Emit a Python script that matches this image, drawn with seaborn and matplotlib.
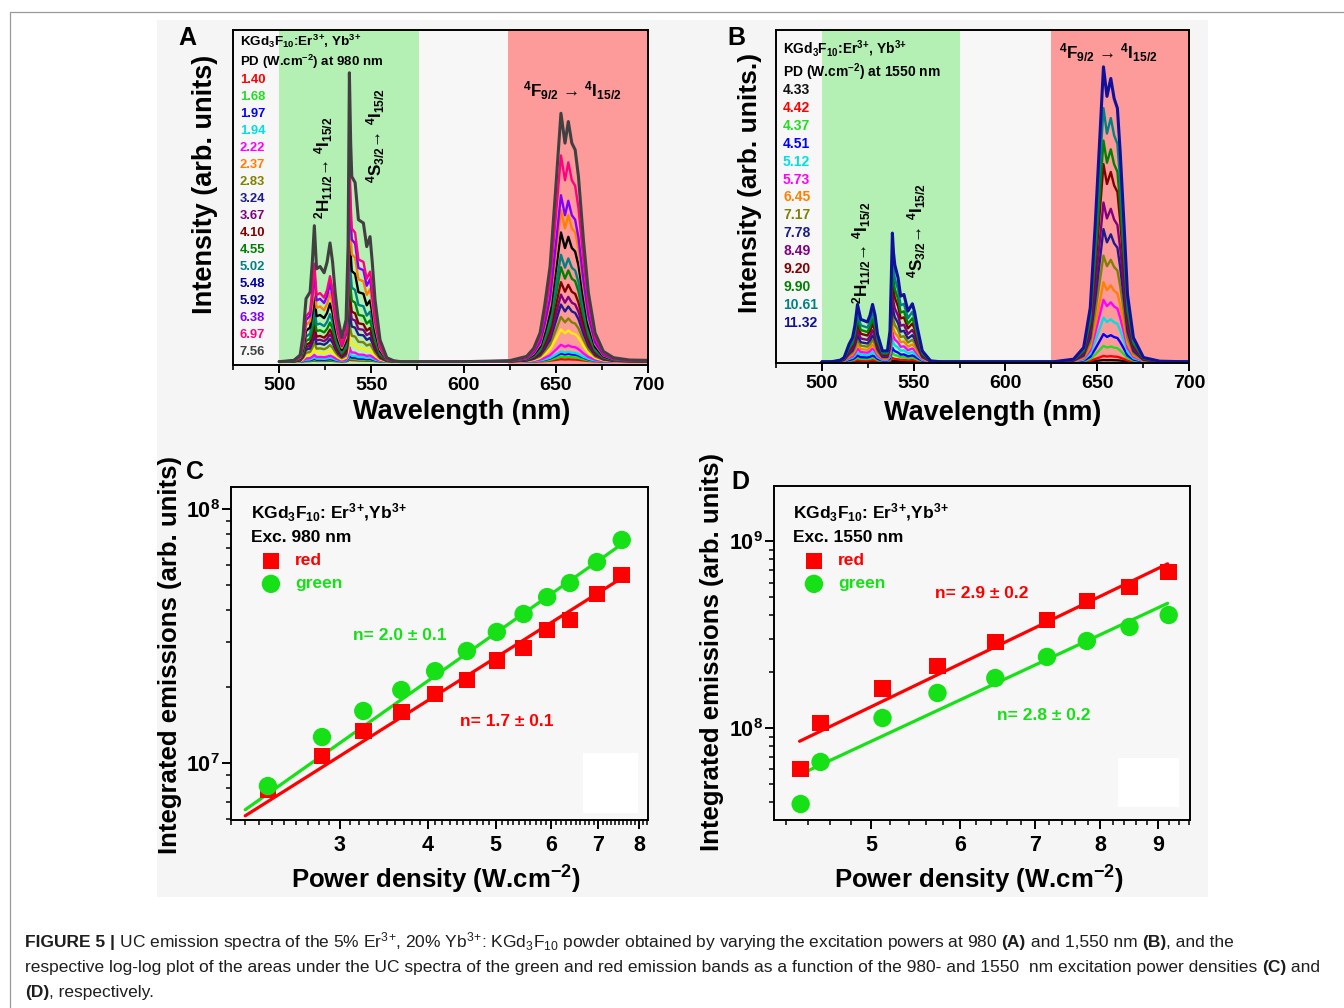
import numpy as np
import matplotlib
matplotlib.use("Agg")
import matplotlib.pyplot as plt
import seaborn as sns
from matplotlib.ticker import (FixedLocator, MultipleLocator, LogLocator,
                               FuncFormatter, NullFormatter)
from matplotlib.patches import Rectangle
from matplotlib.lines import Line2D

# ======================= DATA =======================
# ---- Panel A : spectra under 980 nm excitation (top curve profile) ----
A_green_wl = [500, 508, 511.4, 513.0, 514.6, 516.8, 518.0, 519.1, 520.3, 522.2,
              524.4, 526.0, 527.6, 529.0, 530.4, 532.0, 534.0, 536.3, 537.4, 538.1,
              538.8, 539.4, 541.2, 543.0, 545.7, 547.5, 549.3, 550.5, 552.0, 554.7,
              558.4, 562.0, 566.0]
A_green_top = [0.0, 0.004, 0.02, 0.08, 0.19, 0.21, 0.30, 0.41, 0.28, 0.287,
               0.268, 0.30, 0.358, 0.30, 0.208, 0.13, 0.072, 0.126, 0.35, 0.871,
               0.66, 0.558, 0.54, 0.428, 0.418, 0.347, 0.377, 0.30, 0.187, 0.066,
               0.012, 0.003, 0.0]
A_red_wl = [600, 625, 634.2, 638.0, 641.5, 644.0, 646.9, 650.2, 652.8, 655.0,
            656.8, 658.7, 660.5, 662.3, 665.0, 667.7, 671.3, 675.8, 681.3, 690.0, 700.0]
A_red_top = [0.0, 0.003, 0.016, 0.04, 0.087, 0.17, 0.287, 0.54, 0.749, 0.659,
             0.724, 0.659, 0.639, 0.558, 0.367, 0.207, 0.087, 0.031, 0.012, 0.005, 0.004]
A_pd_labels = ["1.40", "1.68", "1.97", "1.94", "2.22", "2.37", "2.83", "3.24", "3.67",
               "4.10", "4.55", "5.02", "5.48", "5.92", "6.38", "6.97", "7.56"]
A_green_fac = [0.008, 0.014, 0.022, 0.032, 0.05, 0.095, 0.14, 0.19, 0.23,
               0.27, 0.33, 0.40, 0.49, 0.58, 0.66, 0.72, 1.0]
A_red_fac = [0.01, 0.02, 0.033, 0.041, 0.068, 0.13, 0.18, 0.23, 0.27,
             0.32, 0.38, 0.43, 0.52, 0.61, 0.67, 0.83, 1.0]
A_text_colors = ["#ff0000", "#22dd22", "#0000ff", "#00e0e0", "#ff00ff", "#ff8000",
                 "#808000", "#1c1c8c", "#800080", "#800000", "#008000", "#008080",
                 "#0000a0", "#000080", "#8000ff", "#ff0080", "#404040"]
A_line_colors = ["#ff0000", "#00ee00", "#0000ff", "#00e5e5", "#ff00ff", "#ffee00",
                 "#808000", "#1c1c8c", "#800080", "#800000", "#008000", "#008080",
                 "#000000", "#ff8000", "#8000ff", "#ff0080", "#404040"]

# ---- Panel B : spectra under 1550 nm excitation ----
B_green_wl = [500, 504.9, 510.0, 512.1, 514.8, 516.7, 518.0, 519.4, 520.3, 521.2,
              523.5, 524.8, 526.2, 527.6, 529.0, 530.3, 533.0, 535.7, 537.1, 537.8,
              538.4, 539.0, 539.7, 541.5, 542.9, 544.7, 546.9, 549.3, 550.5, 552.0,
              554.7, 559.2, 565.0]
B_green_top = [0.0, 0.0, 0.005, 0.013, 0.053, 0.073, 0.11, 0.173, 0.15, 0.128,
               0.123, 0.12, 0.14, 0.173, 0.14, 0.083, 0.033, 0.033, 0.093, 0.25,
               0.388, 0.33, 0.293, 0.253, 0.198, 0.203, 0.153, 0.175, 0.15, 0.103,
               0.033, 0.003, 0.0]
B_red_wl = [600, 626, 637.1, 642.6, 646.2, 648.9, 651.3, 653.4, 655.3, 657.4,
            659.2, 661.0, 662.5, 664.7, 666.5, 669.7, 675.2, 684.0, 700.0]
B_red_top = [0.0, 0.0, 0.008, 0.043, 0.163, 0.413, 0.664, 0.889, 0.80, 0.854,
             0.794, 0.764, 0.634, 0.403, 0.203, 0.073, 0.013, 0.002, 0.0]
B_pd_labels = ["4.33", "4.42", "4.37", "4.51", "5.12", "5.73", "6.45", "7.17",
               "7.78", "8.49", "9.20", "9.90", "10.61", "11.32"]
B_green_fac = [0.008, 0.03, 0.07, 0.11, 0.17, 0.23, 0.30, 0.38, 0.46, 0.55,
               0.66, 0.75, 0.86, 1.0]
B_red_fac = [0.006, 0.02, 0.054, 0.094, 0.15, 0.21, 0.27, 0.36, 0.45, 0.54,
             0.67, 0.75, 0.86, 1.0]
B_colors = ["#111111", "#ff0000", "#22dd22", "#0000ff", "#00e0e0", "#ff00ff",
            "#ff8000", "#808000", "#1c1c8c", "#800080", "#800000", "#008000",
            "#008080", "#10109a"]

# ---- Panel C : integrated emissions, 980 nm ----
C_power = [2.37, 2.83, 3.24, 3.67, 4.10, 4.55, 5.02, 5.48, 5.92, 6.38, 6.97, 7.56]
C_red = [7.83e6, 1.066e7, 1.336e7, 1.588e7, 1.87e7, 2.12e7, 2.54e7, 2.84e7,
         3.34e7, 3.66e7, 4.63e7, 5.50e7]
C_green = [8.12e6, 1.266e7, 1.603e7, 1.938e7, 2.30e7, 2.76e7, 3.28e7, 3.86e7,
           4.50e7, 5.11e7, 6.18e7, 7.55e7]
C_fit_red = (1.745, 6.195)      # slope, log10 intercept
C_fit_green = (1.949, 6.149)
C_fit_range = [2.2, 7.6]

# ---- Panel D : integrated emissions, 1550 nm ----
D_power = [4.33, 4.51, 5.12, 5.73, 6.45, 7.17, 7.78, 8.49, 9.20]
D_red = [6.04e7, 1.064e8, 1.62e8, 2.15e8, 2.88e8, 3.78e8, 4.78e8, 5.68e8, 6.83e8]
D_green = [3.92e7, 6.58e7, 1.131e8, 1.54e8, 1.85e8, 2.40e8, 2.92e8, 3.47e8, 4.02e8]
D_fit_red = (2.9, 6.086)
D_fit_green = (2.8, 5.971)
D_fit_range = [4.32, 9.18]

RED = "#ff0000"
GREEN = "#16e016"

# ======================= STYLE =======================
sns.set_theme(style="ticks")
plt.rcParams["font.family"] = ["Liberation Sans", "DejaVu Sans"]
plt.rcParams["font.weight"] = "bold"
plt.rcParams["axes.labelweight"] = "bold"
plt.rcParams["mathtext.default"] = "regular"

W, H = 1344, 1008
fig = plt.figure(figsize=(W / 100, H / 100), dpi=100)
fig.patch.set_facecolor("white")

ION_ER = r"Er$^{3}$$^{+}$"
ION_YB = r"Yb$^{3}$$^{+}$"
HOST = r"KGd$_{3}$F$_{10}$"


def axrect(l, t, r, b):
    return [l / W, 1 - b / H, (r - l) / W, (b - t) / H]


def T(x, y, s, size, color="black", ha="left", va="center", rot=0, weight="bold"):
    return fig.text(x / W, 1 - y / H, s, fontsize=size, color=color, ha=ha, va=va,
                    rotation=rot, fontweight=weight)


# page decorations
fig.add_artist(Rectangle((157 / W, 1 - 897 / H), (1208 - 157) / W, (897 - 20) / H,
                         transform=fig.transFigure, facecolor="#f5f5f5",
                         edgecolor="none", zorder=-5))
fig.add_artist(Line2D([10 / W, 1], [1 - 12 / H, 1 - 12 / H], transform=fig.transFigure,
                      color="#9a9a9a", lw=0.9))
fig.add_artist(Line2D([10 / W, 10 / W], [1 - 12 / H, 0], transform=fig.transFigure,
                      color="#9a9a9a", lw=0.9))

axA = fig.add_axes(axrect(233, 30, 648, 365))
axB = fig.add_axes(axrect(776, 30, 1189, 363.5))
axC = fig.add_axes(axrect(231, 487, 648, 820))
axD = fig.add_axes(axrect(774, 486, 1190, 820))

for ax in (axA, axB, axC, axD):
    ax.set_facecolor("#f7f7f7")
    for sp in ax.spines.values():
        sp.set_visible(True)
        sp.set_linewidth(1.4)
        sp.set_color("black")
        sp.set_zorder(6)


# ======================= SPECTRA =======================
def draw_spectra(ax, gwl, gtop, rwl, rtop, gfac, rfac, colors, gspan, rspan, ylim):
    ax.axvspan(*gspan, color="#b4efb4", lw=0, zorder=0)
    ax.axvspan(*rspan, color="#fd9b9b", lw=0, zorder=0)
    wl = np.concatenate([gwl, rwl])
    n = len(colors)
    for i, (gf, rf, c) in enumerate(zip(gfac, rfac, colors)):
        y = np.concatenate([np.asarray(gtop) * gf, np.asarray(rtop) * rf])
        sns.lineplot(x=wl, y=y, ax=ax, color=c, lw=2.2 if i == n - 1 else 1.7,
                     sort=False, estimator=None, errorbar=None, legend=False,
                     zorder=2 + i * 0.01)
    ax.set_xlim(475, 700)
    ax.set_ylim(*ylim)
    ax.xaxis.set_major_locator(MultipleLocator(50))
    ax.xaxis.set_minor_locator(MultipleLocator(25))
    ax.tick_params(axis="x", which="major", direction="out", length=6, width=1.4,
                   labelsize=14, pad=2.5, colors="black")
    ax.tick_params(axis="x", which="minor", direction="out", length=3.5, width=1.2,
                   colors="black")
    ax.tick_params(axis="y", which="both", left=False, labelleft=False)
    ax.set_xlabel("")
    ax.set_ylabel("")


draw_spectra(axA, A_green_wl, A_green_top, A_red_wl, A_red_top, A_green_fac, A_red_fac,
             A_line_colors, (500, 576), (624, 700), (-0.01, 1.0))
draw_spectra(axB, B_green_wl, B_green_top, B_red_wl, B_red_top, B_green_fac, B_red_fac,
             B_colors, (500, 575), (625, 700), (-0.005, 1.0))

# panel A texts
T(240, 41, HOST + ":" + ION_ER + ", " + ION_YB, 9.7)
T(240, 62, r"PD (W.cm$^{-2}$) at 980 nm", 9.5)
for i, (lab, col) in enumerate(zip(A_pd_labels, A_text_colors)):
    T(240, 80 + 17 * i, lab, 9.4, color=col)
T(324, 168, r"$^{2}$H$_{11/2}$→ $^{4}$I$_{15/2}$", 12.3, ha="center", rot=90)
T(376, 136, r"$^{4}$S$_{3/2}$→ $^{4}$I$_{15/2}$", 12.3, ha="center", rot=90)
T(572, 91, r"$^{4}$F$_{9/2}$ → $^{4}$I$_{15/2}$", 12.3, ha="center")
T(187, 38, "A", 18, ha="center")
T(205, 184, "Intensity (arb. units)", 19.5, ha="center", rot=90)
T(462, 412, "Wavelength (nm)", 19.5, ha="center")

# panel B texts
T(783, 49, HOST + ":" + ION_ER + ", " + ION_YB, 9.9)
T(783, 72, r"PD (W.cm$^{-2}$) at 1550 nm", 10)
for i, (lab, col) in enumerate(zip(B_pd_labels, B_colors)):
    T(783, 90 + 17.9 * i, lab, 10, color=col)
T(862, 253, r"$^{2}$H$_{11/2}$→ $^{4}$I$_{15/2}$", 12.3, ha="center", rot=90)
T(917, 231, r"$^{4}$S$_{3/2}$→ $^{4}$I$_{15/2}$", 12.3, ha="center", rot=90)
T(1108, 53, r"$^{4}$F$_{9/2}$ → $^{4}$I$_{15/2}$", 12.3, ha="center")
T(736, 38, "B", 18, ha="center")
T(750, 183, "Intensity (arb. units.)", 19, ha="center", rot=90)
T(993, 413, "Wavelength (nm)", 19.5, ha="center")


# ======================= LOG-LOG PANELS =======================
def draw_loglog(ax, power, red, green, fit_red, fit_green, fit_range, xlim, ylim,
                xmajor, xminor_step, leg_anchor):
    xs = np.asarray(fit_range, dtype=float)
    for (n_, b_), c in ((fit_red, RED), (fit_green, GREEN)):
        sns.lineplot(x=xs, y=10 ** (b_ + n_ * np.log10(xs)), ax=ax, color=c, lw=2.3,
                     sort=False, estimator=None, errorbar=None, legend=False, zorder=3)
    sns.scatterplot(x=power, y=red, ax=ax, marker="s", s=144, color=RED,
                    edgecolor="none", linewidth=0, label="red", zorder=4)
    sns.scatterplot(x=power, y=green, ax=ax, marker="o", s=175, color=GREEN,
                    edgecolor="none", linewidth=0, label="green", zorder=4)
    ax.set_xscale("log")
    ax.set_yscale("log")
    ax.set_xlim(*xlim)
    ax.set_ylim(*ylim)
    ax.xaxis.set_major_locator(FixedLocator(xmajor))
    ax.xaxis.set_major_formatter(FuncFormatter(lambda v, p: f"{v:g}"))
    ax.xaxis.set_minor_locator(MultipleLocator(xminor_step))
    ax.xaxis.set_minor_formatter(NullFormatter())
    ax.yaxis.set_major_locator(LogLocator(base=10))
    ax.yaxis.set_major_formatter(
        FuncFormatter(lambda v, p: r"10$^{%d}$" % int(round(np.log10(v)))))
    ax.yaxis.set_minor_locator(LogLocator(base=10, subs=np.arange(2, 10)))
    ax.yaxis.set_minor_formatter(NullFormatter())
    ax.tick_params(axis="both", which="major", direction="out", length=6.5, width=1.4,
                   labelsize=15.5, colors="black")
    ax.tick_params(axis="x", which="major", pad=4)
    ax.tick_params(axis="y", which="major", pad=1.5)
    ax.tick_params(axis="both", which="minor", direction="out", length=3.5, width=1.1,
                   colors="black")
    ax.set_xlabel("")
    ax.set_ylabel("")
    h, l = ax.get_legend_handles_labels()
    ax.legend(h, l, loc="upper left", bbox_to_anchor=leg_anchor, frameon=False,
              borderpad=0, borderaxespad=0, handlelength=1.2,
              handletextpad=0.8, labelspacing=0.45, labelcolor=[RED, GREEN],
              prop={"weight": "bold", "size": 12.5})


draw_loglog(axC, C_power, C_red, C_green, C_fit_red, C_fit_green, C_fit_range,
            (2.1, 8.24), (5.97e6, 1.22e8), [3, 4, 5, 6, 7, 8], 0.1,
            ((260.5 - 231) / 417, (820 - 553.3) / 333))
draw_loglog(axD, D_power, D_red, D_green, D_fit_red, D_fit_green, D_fit_range,
            (4.10, 9.61), (3.22e7, 1.97e9), [5, 6, 7, 8, 9], 0.2,
            ((803.5 - 774) / 416, (820 - 553.3) / 334))

# white boxes present in the original panels
for (l, t, r, b) in ((583, 753, 638, 813), (1118, 758, 1179, 807)):
    fig.add_artist(Rectangle((l / W, 1 - b / H), (r - l) / W, (b - t) / H,
                             transform=fig.transFigure, facecolor="white",
                             edgecolor="none", zorder=5))

# panel C texts
T(195, 472, "C", 18, ha="center")
T(251, 513, HOST + ": " + ION_ER + "," + ION_YB, 12.5)
T(251, 538, "Exc. 980 nm", 12.5)
T(353, 636, "n= 2.0 ± 0.1", 12.5, color=GREEN)
T(460, 722, "n= 1.7 ± 0.1", 12.5, color=RED)
T(170, 655, "Integrated emissions (arb. units)", 18.5, ha="center", rot=90)
T(436, 880, r"Power density (W.cm$^{-2}$)", 18.5, ha="center")

# panel D texts
T(740, 482, "D", 18, ha="center")
T(793, 513, HOST + ": " + ION_ER + "," + ION_YB, 12.5)
T(793, 538, "Exc. 1550 nm", 12.5)
T(935, 594, "n= 2.9 ± 0.2", 12.5, color=RED)
T(997, 716, "n= 2.8 ± 0.2", 12.5, color=GREEN)
T(712, 652, "Integrated emissions (arb. units)", 18.5, ha="center", rot=90)
T(979, 880, r"Power density (W.cm$^{-2}$)", 18.5, ha="center")

# ======================= CAPTION =======================
caption_lines = [
    [("FIGURE 5 |", "bold"),
     (" UC emission spectra of the 5% " + ION_ER + ", 20% " + ION_YB + ": " + HOST +
      " powder obtained by varying the excitation powers at 980 ", "normal"),
     ("(A)", "bold"), (" and 1,550 nm ", "normal"), ("(B)", "bold"),
     (", and the", "normal")],
    [("respective log-log plot of the areas under the UC spectra of the green and red "
      "emission bands as a function of the 980- and 1550  nm excitation power densities ",
      "normal"), ("(C)", "bold"), (" and", "normal")],
    [("(D)", "bold"), (", respectively.", "normal")],
]
caption_y = [947, 972, 997]

renderer = fig.canvas.get_renderer()


def seg_width(s, size, weight):
    t1 = fig.text(0, 0, "I" + s + "I", fontsize=size, fontweight=weight)
    t2 = fig.text(0, 0, "II", fontsize=size, fontweight=weight)
    w = (t1.get_window_extent(renderer).width - t2.get_window_extent(renderer).width)
    t1.remove()
    t2.remove()
    return w


base = 12.0
w2 = sum(seg_width(s, base, wt) for s, wt in caption_lines[1])
cap_size = base * (1322 - 25) / w2
for segs, yb in zip(caption_lines, caption_y):
    x = 25
    for s, wt in segs:
        T(x, yb, s, cap_size, color="#1e1e1e", va="baseline", weight=wt)
        x += seg_width(s, cap_size, wt)

fig.savefig("out.png", dpi=100, facecolor="white")
